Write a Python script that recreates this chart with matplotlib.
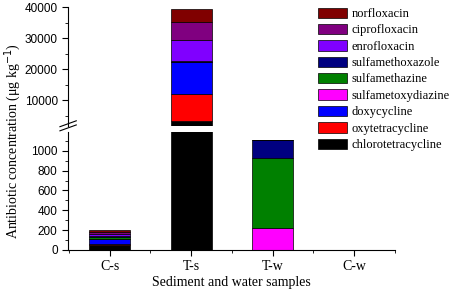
import numpy as np
import matplotlib
matplotlib.use("Agg")
import matplotlib.pyplot as plt

# samples on the x axis
samples = ["C-s", "T-s", "T-w", "C-w"]

# compounds, stacked bottom -> top
compounds = ["chlorotetracycline", "oxytetracycline", "doxycycline",
             "sulfametoxydiazine", "sulfamethazine", "sulfamethoxazole",
             "enrofloxacin", "ciprofloxacin", "norfloxacin"]

# concentrations (ug/kg) per compound, one value per sample
chlorotetracycline = [50, 3200, 0, 0]
oxytetracycline = [10, 8640, 0, 0]
doxycycline = [50, 10460, 0, 0]
sulfametoxydiazine = [3, 0, 218, 0]
sulfamethazine = [17, 50, 705, 2]
sulfamethoxazole = [15, 350, 185, 2]
enrofloxacin = [17, 6600, 0, 0]
ciprofloxacin = [17, 5830, 0, 0]
norfloxacin = [17, 4300, 0, 0]

values = [chlorotetracycline, oxytetracycline, doxycycline,
          sulfametoxydiazine, sulfamethazine, sulfamethoxazole,
          enrofloxacin, ciprofloxacin, norfloxacin]
colors = ["#000000", "#ff0000", "#0000ff", "#ff00ff", "#008000",
          "#000080", "#8000ff", "#800080", "#800000"]

serif = "Liberation Serif"
sans = "Liberation Sans"

fig = plt.figure(figsize=(4.54, 2.94), dpi=100)
ax_top = fig.add_axes([0.150, 0.571, 0.720, 0.405])
ax_bot = fig.add_axes([0.150, 0.150, 0.720, 0.401])

x = np.arange(1, len(samples) + 1)
handles = []
for ax in (ax_top, ax_bot):
    bottom = np.zeros(len(samples))
    hs = []
    for name, vals, c in zip(compounds, values, colors):
        vals = np.array(vals, dtype=float)
        b = ax.bar(x, vals, 0.5, bottom=bottom, color=c, edgecolor="black",
                   linewidth=0.5, label=name)
        bottom += vals
        hs.append(b)
    handles = hs
    ax.set_xlim(0.49, 4.49)
    ax.spines["top"].set_visible(False)
    ax.spines["right"].set_visible(False)
    ax.tick_params(which="major", direction="out", length=4, width=0.8)
    ax.tick_params(which="minor", direction="out", length=2, width=0.6)

# upper panel
ax_top.set_ylim(1600, 40000)
ax_top.set_yticks([10000, 20000, 30000, 40000])
ax_top.set_yticks(np.arange(5000, 40001, 5000), minor=True)
ax_top.set_yticklabels(["10000", "20000", "30000", "40000"],
                       fontfamily=sans, fontsize=8.5)
ax_top.spines["bottom"].set_visible(False)
ax_top.tick_params(axis="x", which="both", bottom=False, labelbottom=False)

# lower panel
ax_bot.set_ylim(0, 1190)
ax_bot.set_yticks(np.arange(0, 1001, 200))
ax_bot.set_yticks(np.arange(0, 1101, 100), minor=True)
ax_bot.set_yticklabels([str(v) for v in range(0, 1001, 200)],
                       fontfamily=sans, fontsize=8.5)
ax_bot.set_xticks(x)
ax_bot.set_xticks([0.5, 1.5, 2.5, 3.5, 4.5], minor=True)
ax_bot.set_xticklabels(samples, fontfamily=serif, fontsize=10)
ax_bot.set_xlabel("Sediment and water samples", fontfamily=serif,
                  fontsize=10, labelpad=2)

# axis break marks
for dy in (0.0, 0.035):
    ax_bot.plot([-0.025, 0.025], [1.01 + dy, 1.06 + dy], color="black",
                lw=0.8, transform=ax_bot.transAxes, clip_on=False)

fig.text(0.028, 0.52, "Antibiotic concentration (\u03bcg kg$^{-1}$)",
         rotation=90, ha="center", va="center", fontfamily=serif,
         fontsize=10)

fig.legend(handles[::-1], compounds[::-1], loc="upper left",
           bbox_to_anchor=(0.683, 1.0), frameon=False,
           prop={"family": serif, "size": 9}, handlelength=2.35,
           handleheight=0.9, labelspacing=0.31, handletextpad=0.4,
           borderaxespad=0.2)

fig.savefig("out.png", dpi=100)
